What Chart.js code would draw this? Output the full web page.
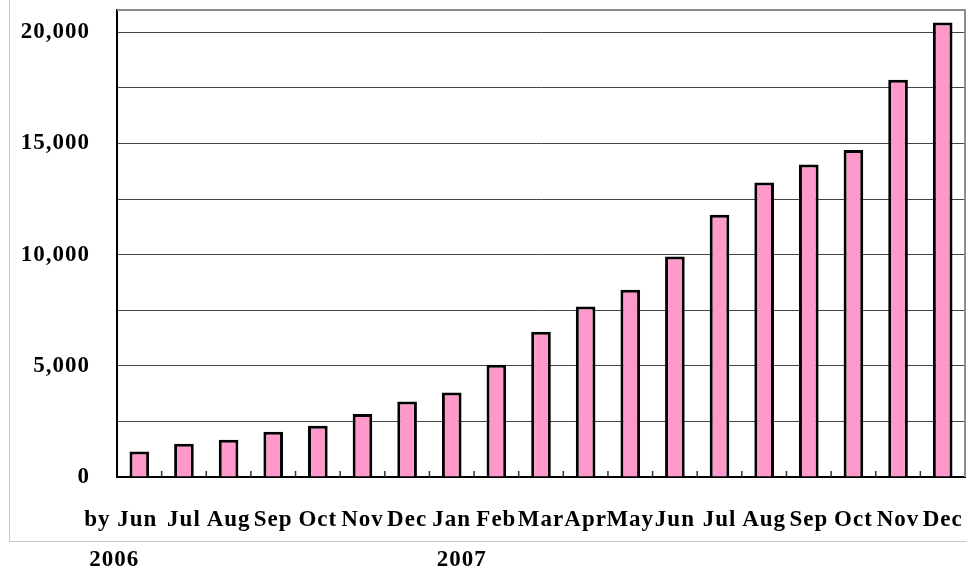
<!DOCTYPE html>
<html lang="en">
<head>
  <meta charset="UTF-8">
  <script src="https://cdn.jsdelivr.net/npm/chart.js"></script>
  <title>Monthly totals</title>
  <style>
    body {
      margin: 0;
      padding: 0;
      background-color: #fff;
    }
    canvas {
      display: block;
    }
  </style>
</head>
<body>
<canvas id="myChart" width="967" height="570"></canvas>

<script>
  // Categories (month labels) and values
  const months = ['by Jun', 'Jul', 'Aug', 'Sep', 'Oct', 'Nov', 'Dec', 'Jan', 'Feb', 'Mar',
    'Apr', 'May', 'Jun', 'Jul', 'Aug', 'Sep', 'Oct', 'Nov', 'Dec'];
  const totals = [1150, 1500, 1680, 2040, 2310, 2830, 3400, 3800, 5050, 6530,
    7670, 8420, 9920, 11790, 13240, 14050, 14710, 17860, 20440];
  const years = ['2006', '2007'];
  const yearStart = [0, 7];
  const gridTicks = [0, 2500, 5000, 7500, 10000, 12500, 15000, 17500, 20000];
  const yLabelTicks = [0, 5000, 10000, 15000, 20000];

  const serif = '"Liberation Serif", "Times New Roman", serif';
  const fontSize = 23;
  const labelFont = 'bold ' + fontSize + 'px ' + serif;

  // Gray outer box, plot frame, little tick marks on the x axis and the extra labels
  const decorations = {
    id: 'decorations',
    beforeDraw(chart) {
      const ctx = chart.ctx;
      ctx.save();
      ctx.strokeStyle = '#c8c8c8';
      ctx.lineWidth = 1;
      ctx.strokeRect(9.5, -5, 1000, 546.5);
      ctx.restore();
      // the original labels are set a touch wider
      ctx.letterSpacing = '1px';
    },
    afterDraw(chart) {
      const ctx = chart.ctx;
      const area = chart.chartArea;
      const x = chart.scales.x;

      ctx.save();
      // top and right edges of the plot are gray
      ctx.strokeStyle = '#8c8c8c';
      ctx.lineWidth = 2;
      ctx.beginPath();
      ctx.moveTo(area.left, area.top);
      ctx.lineTo(area.right, area.top);
      ctx.lineTo(area.right, area.bottom);
      ctx.stroke();

      // tick marks between categories, pointing up into the plot
      ctx.strokeStyle = '#333';
      ctx.lineWidth = 1.5;
      ctx.beginPath();
      for (let i = 0; i < months.length - 1; i++) {
        const bx = (x.getPixelForValue(i) + x.getPixelForValue(i + 1)) / 2;
        ctx.moveTo(bx, area.bottom);
        ctx.lineTo(bx, area.bottom - 6);
      }
      ctx.stroke();

      ctx.fillStyle = '#000';
      ctx.font = labelFont;
      ctx.textBaseline = 'middle';

      // first category label sits left of its bar, like the original
      ctx.textAlign = 'right';
      ctx.fillText(months[0], x.getPixelForValue(0) + 18, 520);

      // year labels under the axis
      ctx.textAlign = 'center';
      ctx.fillText(years[0], x.getPixelForValue(yearStart[0]) - 25, 560);
      ctx.fillText(years[1], x.getPixelForValue(yearStart[1]) + 10, 560);
      ctx.restore();
      ctx.letterSpacing = '0px';
    }
  };

  const chartCtx = document.getElementById('myChart').getContext('2d');
  const myChart = new Chart(chartCtx, {
    type: 'bar',
    data: {
      labels: months,
      datasets: [{
        data: totals,
        backgroundColor: '#ff99cc',
        borderColor: '#000',
        borderWidth: 3,
        borderSkipped: 'bottom',
        barPercentage: 0.44,
        categoryPercentage: 1.0,
      }],
    },
    options: {
      responsive: false,
      animation: false,
      layout: {
        padding: { left: 0, right: 2, top: 10, bottom: 0 },
      },
      plugins: {
        legend: { display: false },
        tooltip: { enabled: false },
      },
      scales: {
        x: {
          grid: { display: false, drawTicks: false },
          border: { display: true, color: '#000', width: 2 },
          ticks: {
            autoSkip: false,
            maxRotation: 0,
            minRotation: 0,
            padding: 29,
            color: '#000',
            font: { family: serif, size: fontSize, weight: 'bold' },
            // the first label is drawn by the plugin
            callback: (value, index) => index === 0 ? '' : months[index],
          },
          afterFit(scale) {
            scale.height = 93;
            scale.paddingLeft = 0;
            scale.paddingRight = 0;
          },
        },
        y: {
          min: 0,
          max: 21000,
          afterBuildTicks(scale) {
            scale.ticks = gridTicks.map(v => ({ value: v }));
          },
          ticks: {
            autoSkip: false,
            padding: 27,
            color: '#000',
            font: { family: serif, size: fontSize, weight: 'bold' },
            callback: (value) => yLabelTicks.includes(value) ? value.toLocaleString('en-US') : '',
          },
          grid: {
            color: '#444',
            lineWidth: 1,
            drawTicks: false,
          },
          border: { display: true, color: '#000', width: 2 },
          afterFit(scale) {
            scale.width = 117;
            scale.paddingTop = 0;
            scale.paddingBottom = 0;
          },
        },
      },
    },
    plugins: [decorations],
  });
</script>
</body>
</html>
